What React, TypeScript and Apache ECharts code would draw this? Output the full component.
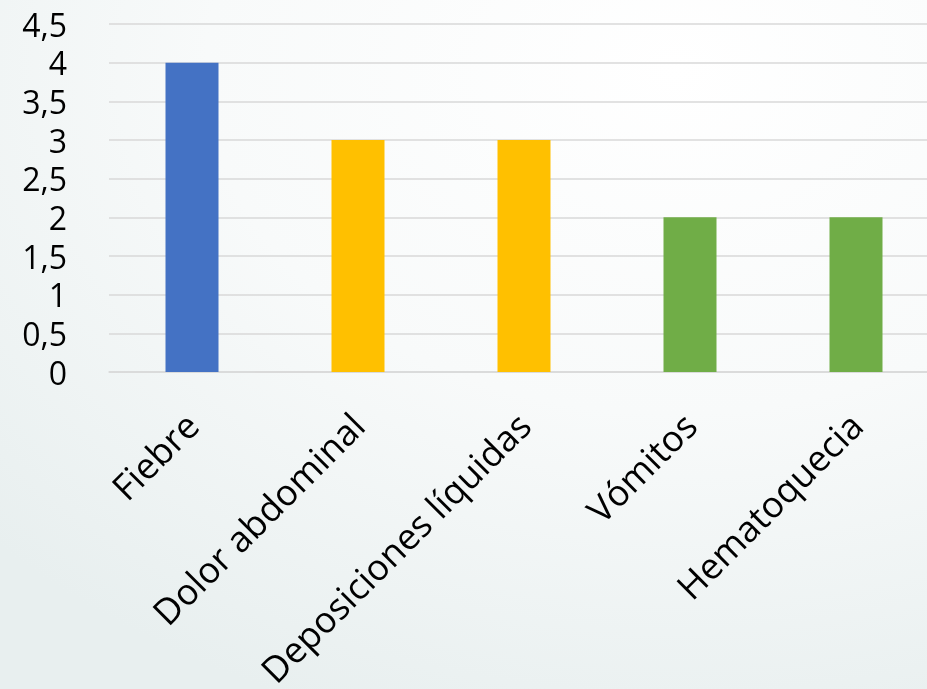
import React, { useEffect, useRef } from "react";
import * as echarts from "echarts";

const categories = ["Fiebre", "Dolor abdominal", "Deposiciones líquidas", "Vómitos", "Hematoquecia"];
const values = [4, 3, 3, 2, 2];
const barColors = ["#4472C4", "#FFC000", "#FFC000", "#70AD47", "#70AD47"];
const yMin = 0;
const yMax = 4.5;
const yStep = 0.5;

export default function App() {
  const ref = useRef<HTMLDivElement>(null);
  useEffect(() => {
    if (!ref.current) return;
    const chart = echarts.init(ref.current, undefined, { renderer: "svg" });
    chart.setOption({
      animation: false,
      backgroundColor: {
        type: "radial",
        x: 0.72,
        y: 0.1,
        r: 1.0,
        colorStops: [
          { offset: 0, color: "#ffffff" },
          { offset: 0.5, color: "#f8fafa" },
          { offset: 1, color: "#e8efef" },
        ],
      },
      grid: {
        left: 109,
        top: 24,
        right: 1,
        height: 348,
        containLabel: false,
        outerBoundsMode: "none",
      },
      xAxis: {
        type: "category",
        data: categories,
        axisLine: { show: true, lineStyle: { color: "#d9d9d9", width: 1.5 } },
        axisTick: { show: false },
        axisLabel: {
          rotate: 45,
          interval: 0,
          margin: 47,
          fontFamily: "Open Sans",
          fontSize: 36,
          color: "#000000",
        },
      },
      yAxis: {
        type: "value",
        min: yMin,
        max: yMax,
        interval: yStep,
        axisLine: { show: false },
        axisTick: { show: false },
        splitLine: { lineStyle: { color: "#d9d9d9", width: 1.5 } },
        axisLabel: {
          margin: 42,
          fontFamily: "Open Sans",
          fontSize: 32,
          lineHeight: 30,
          color: "#000000",
          formatter: (v: number) => String(v).replace(".", ","),
        },
      },
      series: [
        {
          type: "bar",
          barWidth: 53,
          data: values.map((v, i) => ({ value: v, itemStyle: { color: barColors[i] } })),
        },
      ],
    });
    return () => chart.dispose();
  }, []);
  return (
    <div style={{ position: "fixed", left: 0, top: 0, width: 927, height: 689, overflow: "hidden" }}>
      <div ref={ref} style={{ width: 940, height: 689 }} />
    </div>
  );
}
